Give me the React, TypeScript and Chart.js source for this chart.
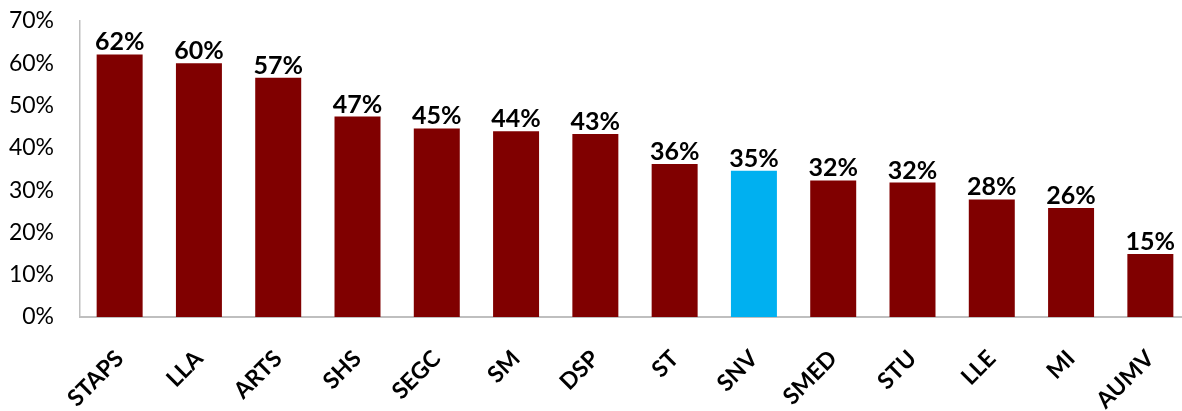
import React, { useEffect, useRef } from "react";
import { Chart, registerables } from "chart.js";

Chart.register(...registerables);

const categories = ["STAPS", "LLA", "ARTS", "SHS", "SEGC", "SM", "DSP", "ST", "SNV", "SMED", "STU", "LLE", "MI", "AUMV"];
const values = [62.1, 60.0, 56.6, 47.4, 44.6, 43.9, 43.3, 36.2, 34.6, 32.3, 31.8, 27.8, 25.8, 14.9];
const highlightCategory = "SNV";
const yMin = 0;
const yMax = 70;
const yStep = 10;

const BAR_COLOR = "#800000";
const HIGHLIGHT_COLOR = "#00B0F0";
const AXIS_COLOR = "#BFBFBF";
const FONT = "Lato, 'Noto Sans', sans-serif";

const valueLabelPlugin = {
  id: "valueLabels",
  afterDatasetsDraw(chart: any) {
    const ctx = chart.ctx;
    const meta = chart.getDatasetMeta(0);
    ctx.save();
    ctx.font = `bold 25px ${FONT}`;
    ctx.fillStyle = "#000000";
    ctx.textAlign = "center";
    ctx.textBaseline = "alphabetic";
    meta.data.forEach((bar: any, i: number) => {
      const v = chart.data.datasets[0].data[i] as number;
      ctx.fillText(`${Math.round(v)}%`, bar.x, bar.y - 4);
    });
    ctx.restore();
  },
};

export default function App() {
  const canvasRef = useRef<HTMLCanvasElement | null>(null);

  useEffect(() => {
    if (!canvasRef.current) return;
    const chart = new Chart(canvasRef.current, {
      type: "bar",
      data: {
        labels: categories,
        datasets: [
          {
            data: values,
            backgroundColor: categories.map((c) => (c === highlightCategory ? HIGHLIGHT_COLOR : BAR_COLOR)),
            borderWidth: 0,
            categoryPercentage: 1,
            barPercentage: 0.58,
          },
        ],
      },
      options: {
        responsive: false,
        maintainAspectRatio: false,
        animation: false,
        layout: { padding: { top: 21, left: 0, right: 0, bottom: 0 } },
        plugins: {
          legend: { display: false },
          tooltip: { enabled: false },
          title: { display: false },
        },
        scales: {
          x: {
            grid: { display: false, drawTicks: false },
            border: { display: true, color: AXIS_COLOR, width: 2 },
            ticks: {
              autoSkip: false,
              minRotation: 45,
              maxRotation: 45,
              padding: 28,
              color: "#000000",
              font: { family: FONT, size: 23, weight: "bold" },
            },
            afterFit: (s: any) => {
              s.height = 94;
              s.paddingLeft = 0;
              s.paddingRight = 0;
              s.paddingTop = 0;
              s.paddingBottom = 0;
            },
          },
          y: {
            min: yMin,
            max: yMax,
            grid: { display: false, drawTicks: false },
            border: { display: true, color: AXIS_COLOR, width: 1.5 },
            ticks: {
              stepSize: yStep,
              padding: 26,
              color: "#000000",
              font: { family: FONT, size: 23 },
              callback: (v: any) => `${v}%`,
            },
            afterFit: (s: any) => {
              s.width = 80;
              s.paddingLeft = 0;
              s.paddingRight = 0;
              s.paddingTop = 0;
              s.paddingBottom = 0;
            },
          },
        },
      },
      plugins: [valueLabelPlugin],
    });
    return () => chart.destroy();
  }, []);

  return (
    <div
      style={{
        position: "fixed",
        left: 0,
        top: 0,
        width: 1182,
        height: 411,
        overflow: "hidden",
        background: "#ffffff",
      }}
    >
      <canvas ref={canvasRef} width={1190} height={411} style={{ display: "block", width: 1190, height: 411 }} />
    </div>
  );
}
